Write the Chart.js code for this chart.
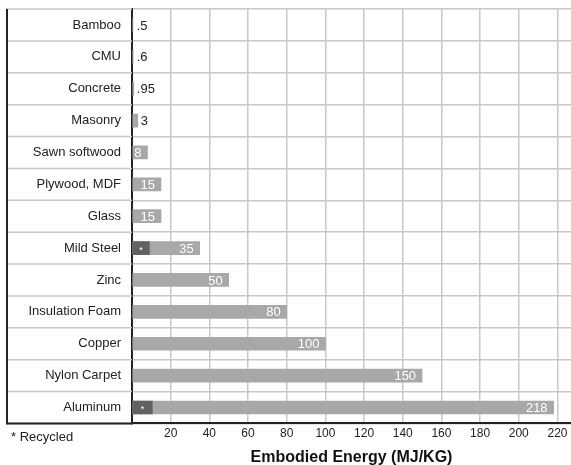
<!DOCTYPE html>
<html>
<head>
<meta charset="utf-8">
<title>Embodied Energy</title>
<script src="https://cdn.jsdelivr.net/npm/chart.js@4/dist/chart.umd.min.js"></script>
<style>
  html, body { margin: 0; padding: 0; background: #fff; }
  canvas { display: block; }
</style>
</head>
<body>
<canvas id="energyChart" width="571" height="465"></canvas>
<script>
const categories = ['Bamboo', 'CMU', 'Concrete', 'Masonry', 'Sawn softwood', 'Plywood, MDF', 'Glass',
    'Mild Steel', 'Zinc', 'Insulation Foam', 'Copper', 'Nylon Carpet', 'Aluminum'];
const totalEnergy = [0.5, 0.6, 0.95, 3, 8, 15, 15, 35, 50, 80, 100, 150, 218];
const valueLabels = ['.5', '.6', '.95', '3', '8', '15', '15', '35', '50', '80', '100', '150', '218'];
const recycledEnergy = [null, null, null, null, null, null, null, 9, null, null, null, null, 10.5];
const xTicks = [0, 20, 40, 60, 80, 100, 120, 140, 160, 180, 200, 220];
const xMax = 227;

const gridColor = '#c8c8c8';
const axisColor = '#222';
const fontFamily = '"Liberation Sans", Arial, sans-serif';

Chart.defaults.font.family = fontFamily;
Chart.defaults.font.size = 12;

// row lines and left edge of the label column, plus the footnote
const frame = {
    id: 'frame',
    afterDraw(chart) {
        const ctx = chart.ctx;
        const area = chart.chartArea;
        const y = chart.scales.y;
        const half = (y.getPixelForValue(1) - y.getPixelForValue(0)) / 2;
        const left = 6;
        ctx.save();
        ctx.strokeStyle = gridColor;
        ctx.lineWidth = 1.5;
        for (let i = 0; i <= categories.length; i++) {
            const py = y.getPixelForValue(i) - half;
            ctx.beginPath();
            ctx.moveTo(left, py);
            ctx.lineTo(area.left, py);
            ctx.stroke();
        }
        ctx.strokeStyle = axisColor;
        ctx.lineWidth = 2;
        ctx.beginPath();
        ctx.moveTo(left + 1, area.top);
        ctx.lineTo(left + 1, area.bottom);
        ctx.moveTo(left, area.bottom);
        ctx.lineTo(area.left, area.bottom);
        ctx.stroke();

        ctx.fillStyle = axisColor;
        ctx.font = '13px ' + fontFamily;
        ctx.textAlign = 'left';
        ctx.textBaseline = 'middle';
        ctx.fillText('* Recycled', left + 5, area.bottom + 14);
        ctx.restore();
    }
};

// numbers at the end of each bar, asterisk on the recycled part
const barLabels = {
    id: 'barLabels',
    afterDatasetsDraw(chart) {
        const ctx = chart.ctx;
        ctx.save();
        ctx.textBaseline = 'middle';
        ctx.font = '13px ' + fontFamily;
        chart.getDatasetMeta(1).data.forEach((bar, i) => {
            if (totalEnergy[i] >= 8) {
                ctx.fillStyle = '#fff';
                ctx.textAlign = 'right';
                ctx.fillText(valueLabels[i], bar.x - 6, bar.y + 1);
            } else {
                ctx.fillStyle = axisColor;
                ctx.textAlign = 'left';
                ctx.fillText(valueLabels[i], Math.max(bar.x + 3, bar.base + 4), bar.y + 1);
            }
        });
        ctx.font = '9px ' + fontFamily;
        ctx.textAlign = 'center';
        ctx.fillStyle = '#fff';
        chart.getDatasetMeta(0).data.forEach((bar, i) => {
            if (recycledEnergy[i] == null) return;
            ctx.fillText('*', (bar.x + bar.base) / 2, bar.y + 2);
        });
        ctx.restore();
    }
};

new Chart(document.getElementById('energyChart'), {
    type: 'bar',
    data: {
        labels: categories,
        datasets: [{
            label: 'Recycled',
            data: recycledEnergy,
            backgroundColor: '#626262',
            grouped: false,
            barThickness: 13
        }, {
            label: 'Embodied energy',
            data: totalEnergy,
            backgroundColor: '#a8a8a8',
            grouped: false,
            barThickness: 13
        }]
    },
    options: {
        indexAxis: 'y',
        responsive: false,
        animation: false,
        layout: {
            padding: { left: 6, top: 9, right: 0, bottom: -2 }
        },
        plugins: {
            legend: { display: false },
            tooltip: { enabled: false }
        },
        scales: {
            x: {
                min: 0,
                max: xMax,
                afterBuildTicks: (axis) => {
                    axis.ticks = xTicks.map(v => ({ value: v }));
                },
                ticks: {
                    color: axisColor,
                    padding: 3,
                    maxRotation: 0,
                    autoSkip: false,
                    callback: (v) => v === 0 ? '' : v
                },
                grid: {
                    color: gridColor,
                    lineWidth: 1.5,
                    drawTicks: false
                },
                border: { color: axisColor, width: 2 },
                title: {
                    display: true,
                    text: 'Embodied Energy (MJ/KG)',
                    color: '#111',
                    font: { size: 16, weight: 'bold' },
                    padding: { top: 4, bottom: 0 }
                }
            },
            y: {
                afterFit: (axis) => {
                    axis.width = 126;
                    axis.paddingTop = 0;
                    axis.paddingBottom = 0;
                },
                ticks: {
                    color: axisColor,
                    font: { size: 13 },
                    padding: 11
                },
                grid: {
                    color: gridColor,
                    lineWidth: 1.5,
                    drawTicks: false
                },
                border: { color: axisColor, width: 2 }
            }
        }
    },
    plugins: [frame, barLabels]
});
</script>
</body>
</html>
